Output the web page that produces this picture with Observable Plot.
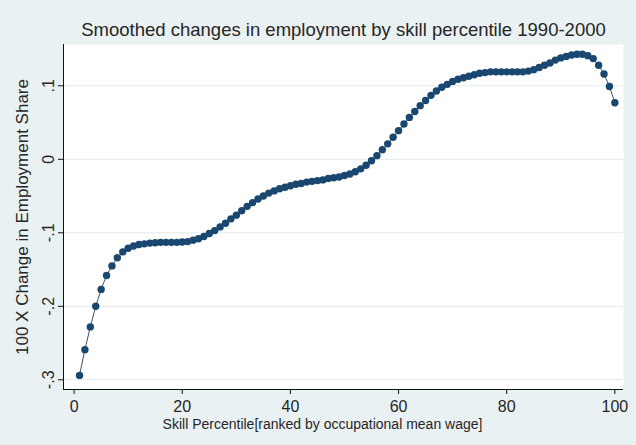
<!DOCTYPE html>
<html>
<head>
<meta charset="utf-8">
<script src="https://cdn.jsdelivr.net/npm/d3@7"></script>
<script src="https://cdn.jsdelivr.net/npm/@observablehq/plot@0.6"></script>
<style>
  html, body { margin: 0; padding: 0; background: #eaf1f3; }
  #chart { width: 636px; height: 445px; }
</style>
</head>
<body>
<div id="chart"></div>
<script>
const title = "Smoothed changes in employment by skill percentile 1990-2000";
const xLabel = "Skill Percentile[ranked by occupational mean wage]";
const yLabel = "100 X Change in Employment Share";

const percentile = d3.range(1, 101);
const change = [
  -0.294, -0.259, -0.228, -0.200, -0.177, -0.158, -0.145, -0.134, -0.126, -0.121,
  -0.118, -0.116, -0.115, -0.114, -0.1135, -0.113, -0.113, -0.113, -0.113, -0.1125,
  -0.112, -0.110, -0.108, -0.105, -0.101, -0.097, -0.092, -0.087, -0.081, -0.076,
  -0.070, -0.064, -0.059, -0.054, -0.050, -0.046, -0.043, -0.040, -0.038, -0.036,
  -0.034, -0.033, -0.031, -0.030, -0.029, -0.028, -0.026, -0.025, -0.024, -0.022,
  -0.020, -0.017, -0.013, -0.008, -0.002, 0.005, 0.013, 0.021, 0.030, 0.039,
  0.048, 0.057, 0.065, 0.073, 0.080, 0.087, 0.093, 0.098, 0.102, 0.106,
  0.109, 0.111, 0.113, 0.115, 0.117, 0.118, 0.119, 0.119, 0.119, 0.119,
  0.119, 0.119, 0.119, 0.120, 0.122, 0.125, 0.128, 0.131, 0.135, 0.138,
  0.140, 0.142, 0.143, 0.143, 0.141, 0.137, 0.128, 0.116, 0.099, 0.077
];
const xTicks = [0, 20, 40, 60, 80, 100];
const yTicks = [-0.3, -0.2, -0.1, 0, 0.1];

const data = percentile.map((p, i) => ({p, v: change[i]}));
const xDomain = [-1.96, 101.6];
const yDomain = [-0.3132, 0.1562];
const stataFmt = d => d === 0 ? "0" : (d < 0 ? "-" : "") + String(Math.abs(d)).replace(/^0/, "");
const ink = "#262626";
const navy = "#1a476f";

const plot = Plot.plot({
  width: 636,
  height: 445,
  marginLeft: 63,
  marginRight: 13,
  marginTop: 44,
  marginBottom: 56,
  style: {background: "#eaf1f3", fontFamily: "'Liberation Sans', Arial, sans-serif", color: ink},
  x: {domain: xDomain},
  y: {domain: yDomain},
  marks: [
    Plot.frame({fill: "white", stroke: null}),
    Plot.gridY(yTicks, {stroke: "#e3eaed", strokeOpacity: 1, strokeWidth: 1}),
    Plot.ruleX([xDomain[0]], {stroke: "#111", strokeWidth: 1}),
    Plot.ruleY([yDomain[0]], {stroke: "#111", strokeWidth: 1}),
    Plot.axisX({ticks: xTicks, tickSize: 5, tickPadding: 6, fontSize: 16, stroke: "#111", label: null}),
    Plot.axisY({ticks: yTicks, tickSize: 5, stroke: "#111", tickFormat: () => "", label: null}),
    Plot.text(yTicks, {x: xDomain[0], y: d => d, text: stataFmt, rotate: -90, dx: -15,
      fontSize: 16, fill: ink, textAnchor: "middle", lineAnchor: "middle"}),
    Plot.text([xLabel], {frameAnchor: "bottom", dx: -21, dy: 35, fontSize: 14, fill: ink, lineAnchor: "middle"}),
    Plot.text([yLabel], {frameAnchor: "left", dx: -41, rotate: -90, fontSize: 17, fill: ink,
      textAnchor: "middle", lineAnchor: "middle"}),
    Plot.line(data, {x: "p", y: "v", stroke: "#3c5268", strokeWidth: 1}),
    Plot.dot(data, {x: "p", y: "v", r: 3.7, fill: navy, stroke: null}),
    Plot.text([title], {frameAnchor: "top", dy: -14, fontSize: 18.5, fill: ink, lineAnchor: "middle"})
  ]
});
document.getElementById("chart").appendChild(plot);
</script>
</body>
</html>
